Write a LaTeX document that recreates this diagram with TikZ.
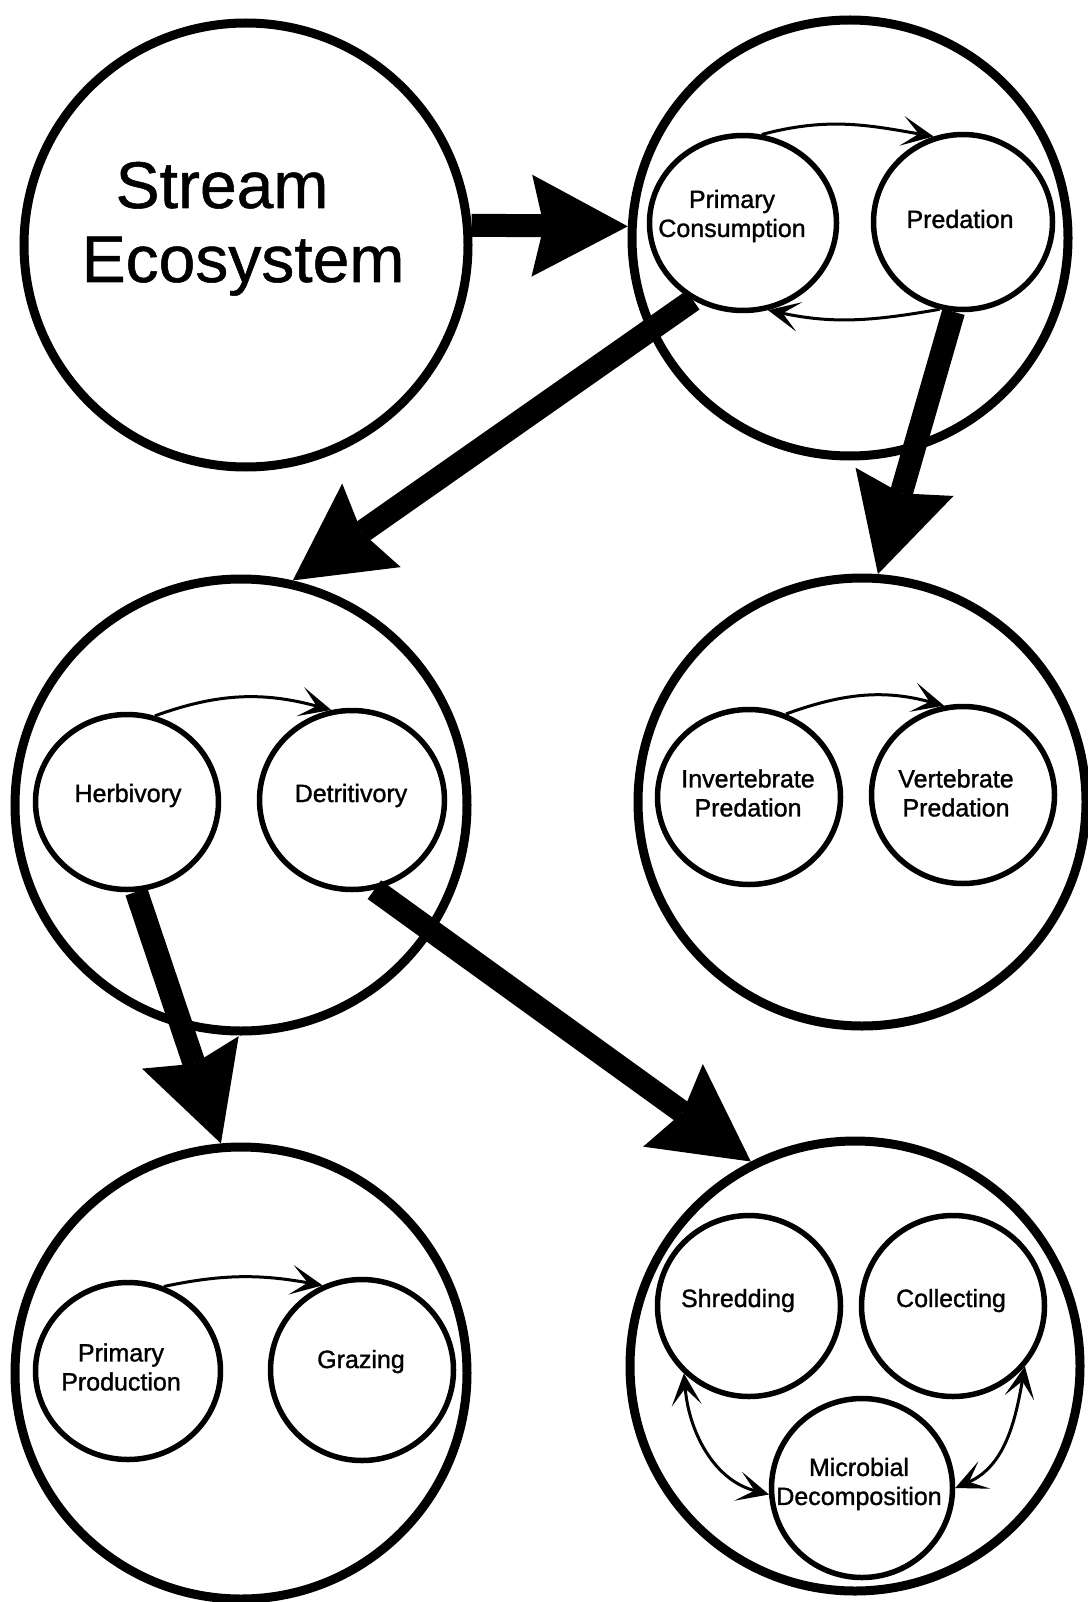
\documentclass[tikz,border=0pt]{standalone}
\usepackage{fontspec}
\setmainfont{Liberation Sans}
\newfontfamily\lblfont{Liberation Sans}[FakeBold=1.2]
\newfontfamily\ttlfont{Liberation Sans}[FakeBold=0.8]
\usetikzlibrary{arrows.meta,shapes.geometric}
\begin{document}
\begin{tikzpicture}[x=1pt,y=1pt,
  bigc/.style={circle, draw, line width=9pt, inner sep=0pt},
  smallc/.style={ellipse, draw, line width=5.5pt, inner sep=0pt},
  lbl/.style={font=\lblfont\fontsize{25}{29}\selectfont, align=center, inner sep=0pt},
  ttl/.style={font=\ttlfont\fontsize{66}{74}\selectfont, inner sep=0pt, anchor=base},
  bigarrow/.style={line width=23pt, -{Stealth[length=96pt,width=102pt,inset=12pt,line width=0pt 0 0]}},
  thinarrow/.style={line width=3pt, -{Stealth[length=32pt,width=30pt,inset=17pt,line width=0pt 0 0]}},
  dblarrow/.style={line width=3pt, {Stealth[length=32pt,width=30pt,inset=17pt,line width=0pt 0 0]}-{Stealth[length=32pt,width=30pt,inset=17pt,line width=0pt 0 0]}}
]
\fill[white] (0,0) rectangle (1087,-1602);
\useasboundingbox (0,0) rectangle (1087,-1602);

% big circles
\node[bigc, minimum size=444pt] (se) at (246,-245) {};
\node[bigc, minimum size=436pt] (tr) at (850,-238) {};
\node[bigc, minimum size=452pt] (ml) at (241,-805) {};
\node[bigc, minimum size=448pt] (mr) at (862,-802) {};
\node[bigc, minimum size=452pt] (bl) at (241,-1373) {};
\node[bigc, minimum size=450pt] (br) at (855,-1366) {};

% small circles
\node[smallc, minimum width=187pt, minimum height=175pt] (pc) at (743,-223) {};
\node[smallc, minimum width=179pt, minimum height=175pt] (pr) at (963,-222) {};
\node[smallc, minimum width=183pt, minimum height=175pt] (hb) at (127,-802) {};
\node[smallc, minimum width=185pt, minimum height=179pt] (dt) at (352,-800) {};
\node[smallc, minimum width=183pt, minimum height=175pt] (ip) at (749,-797) {};
\node[smallc, minimum width=183pt, minimum height=177pt] (vp) at (963,-795) {};
\node[smallc, minimum width=185pt, minimum height=177pt] (pp) at (128,-1371) {};
\node[smallc, minimum width=183pt, minimum height=181pt] (gz) at (362,-1370) {};
\node[smallc, minimum width=183pt, minimum height=181pt] (sh) at (749,-1306) {};
\node[smallc, minimum width=183pt, minimum height=181pt] (co) at (953,-1306) {};
\node[smallc, minimum width=181pt, minimum height=179pt] (md) at (862,-1488) {};

% texts
\node[ttl] (se-t1) at (222,-208) {Stream};
\node[ttl] (se-t2) at (243,-282) {Ecosystem};
\node[lbl] (pc-t) at (732,-216) {Primary\\Consumption};
\node[lbl, anchor=base] (pr-t) at (960,-228) {Predation};
\node[lbl, anchor=base] (hb-t) at (128,-802) {Herbivory};
\node[lbl, anchor=base] (dt-t) at (351,-802) {Detritivory};
\node[lbl] (ip-t) at (748,-793) {Invertebrate\\Predation};
\node[lbl] (vp-t) at (956,-793) {Vertebrate\\Predation};
\node[lbl] (pp-t) at (121,-1367) {Primary\\Production};
\node[lbl, anchor=base] (gz-t) at (361,-1368) {Grazing};
\node[lbl, anchor=base] (sh-t) at (738,-1307) {Shredding};
\node[lbl, anchor=base] (co-t) at (951,-1307) {Collecting};
\node[lbl] (md-t) at (859,-1484) {Microbial\\Decomposition};

% thick arrows
\draw[bigarrow] (se.5) -- (tr.177);
\draw[bigarrow] (pc.237) -- (ml.77.6);
\draw[bigarrow] (pr.264) -- (mr.86);
\draw[bigarrow] (hb.276) -- (bl.95.8);
\draw[bigarrow] (dt.284) -- (br.117);

% thin arrows
\draw[thinarrow] (pc.78) to[out=15,in=170] (pr.109);
\draw[thinarrow] (pr.255) to[out=190,in=-12] (pc.286);
\draw[thinarrow] (hb.72) to[out=20,in=165] (dt.103);
\draw[thinarrow] (ip.66) to[out=20,in=165] (vp.102);
\draw[thinarrow] (pp.67) to[out=12,in=170] (gz.115);
\draw[dblarrow] (sh.226) to[out=-85,in=165] (md.184);
\draw[dblarrow] (co.-40) to[out=-100,in=24] (md.0);
\end{tikzpicture}
\end{document}
